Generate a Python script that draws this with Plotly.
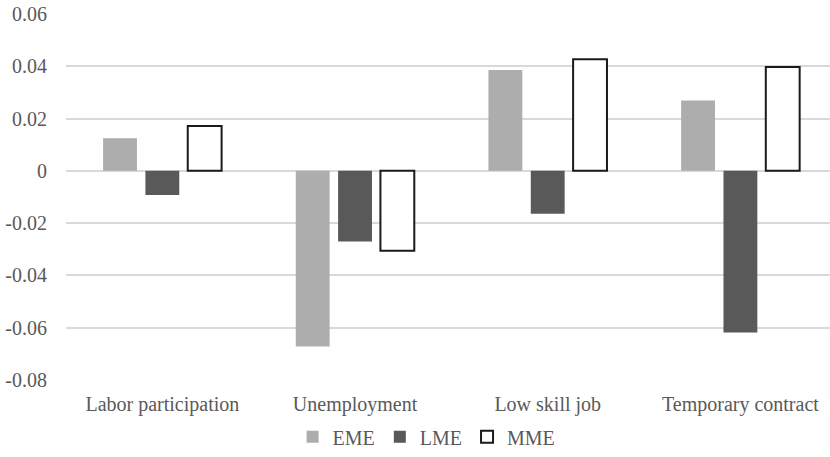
import plotly.graph_objects as go

categories = ["Labor participation", "Unemployment", "Low skill job", "Temporary contract"]
eme = [0.0125, -0.0672, 0.0386, 0.0269]
lme = [-0.0092, -0.0270, -0.0164, -0.0618]
mme = [0.0172, -0.0306, 0.0427, 0.0397]
y_ticks = [0.06, 0.04, 0.02, 0, -0.02, -0.04, -0.06, -0.08]
y_tick_text = ["0.06", "0.04", "0.02", "0", "-0.02", "-0.04", "-0.06", "-0.08"]

font_family = "Liberation Serif, Times New Roman, serif"
text_color = "#595959"

fig = go.Figure()
fig.add_trace(go.Bar(name="EME", x=categories, y=eme,
                     marker=dict(color="#ADADAD", line=dict(width=0))))
fig.add_trace(go.Bar(name="LME", x=categories, y=lme,
                     marker=dict(color="#595959", line=dict(width=0))))
fig.add_trace(go.Bar(name="MME", x=categories, y=mme,
                     marker=dict(color="#FFFFFF", line=dict(color="#1A1A1A", width=2))))

fig.update_layout(
    width=830, height=457,
    margin=dict(l=66, r=0, t=14, b=77),
    paper_bgcolor="white", plot_bgcolor="white",
    barmode="group", bargap=0.341, bargroupgap=0.2,
    font=dict(family=font_family, size=20, color=text_color),
    showlegend=True,
    legend=dict(orientation="h", x=0.472, xanchor="center", y=-0.155, yanchor="middle",
                font=dict(family=font_family, size=20, color=text_color),
                itemwidth=30, traceorder="normal"),
)
fig.update_xaxes(range=[-0.5, 3.465], showgrid=False, showline=False, zeroline=False,
                 tickfont=dict(family=font_family, size=20, color=text_color),
                 ticks="", ticklabelstandoff=10)
fig.update_yaxes(range=[-0.08, 0.06], tickvals=y_ticks, ticktext=y_tick_text,
                 showgrid=True, gridcolor="#D9D9D9", gridwidth=1.5,
                 zeroline=True, zerolinecolor="#D9D9D9", zerolinewidth=1.5,
                 showline=False, ticks="", ticklabelstandoff=18,
                 tickfont=dict(family=font_family, size=20, color=text_color))

fig.write_html("out.html")
